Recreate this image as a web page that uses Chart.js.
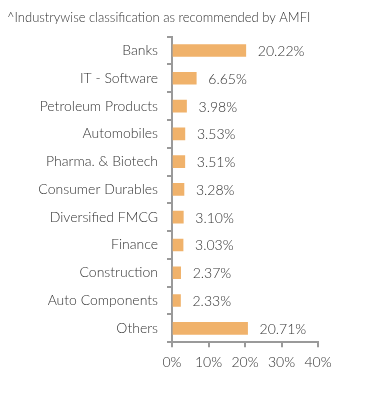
<!DOCTYPE html>
<html>
<head>
<meta charset="utf-8">
<script src="https://cdn.jsdelivr.net/npm/chart.js@4"></script>
<style>
html,body{margin:0;padding:0;background:#fff;}
#wrap{width:391px;height:395px;position:relative;}
</style>
</head>
<body>
<div id="wrap"><canvas id="c" width="391" height="395"></canvas></div>
<script>
const titleText = "^Industrywise classification as recommended by AMFI";
const categories = ["Banks","IT - Software","Petroleum Products","Automobiles","Pharma. & Biotech","Consumer Durables","Diversified FMCG","Finance","Construction","Auto Components","Others"];
const weights = [20.22, 6.65, 3.98, 3.53, 3.51, 3.28, 3.10, 3.03, 2.37, 2.33, 20.71];
const xTicks = [0, 10, 20, 30, 40];

const FONT = "Lato, 'Open Sans', sans-serif";
const TEXT = "#333333";
const AXIS = "#9a9a9a";

const valueLabels = {
  id: 'valueLabels',
  afterDatasetsDraw(chart) {
    const ctx = chart.ctx;
    const meta = chart.getDatasetMeta(0);
    ctx.save();
    ctx.font = "300 14px " + FONT;
    ctx.fillStyle = TEXT;
    ctx.textAlign = 'left';
    ctx.textBaseline = 'middle';
    meta.data.forEach((bar, i) => {
      ctx.fillText(weights[i].toFixed(2) + '%', bar.x + 12, bar.y + 1);
    });
    ctx.restore();
  }
};

new Chart(document.getElementById('c'), {
  type: 'bar',
  data: {
    labels: categories,
    datasets: [{
      data: weights,
      backgroundColor: '#F0B26B',
      borderWidth: 0,
      barThickness: 12
    }]
  },
  options: {
    indexAxis: 'y',
    responsive: false,
    animation: false,
    devicePixelRatio: 1,
    layout: { padding: { left: 7, right: 73, top: 0, bottom: 17 } },
    plugins: {
      legend: { display: false },
      tooltip: { enabled: false },
      title: {
        display: true,
        text: titleText,
        align: 'start',
        color: TEXT,
        font: { family: FONT, size: 13, weight: 300 },
        padding: { top: 10, bottom: 11 }
      }
    },
    scales: {
      x: {
        min: 0, max: 40,
        afterBuildTicks(scale) { scale.ticks = xTicks.map(v => ({ value: v })); },
        border: { display: true, color: AXIS, width: 2 },
        grid: { drawOnChartArea: false, drawTicks: true, tickLength: 5, color: AXIS, lineWidth: 2 },
        ticks: {
          color: TEXT,
          font: { family: FONT, size: 14, weight: 300 },
          padding: 7,
          maxRotation: 0,
          callback: (v) => v + '%'
        }
      },
      y: {
        afterFit(scale) { scale.width = 165; },
        border: { display: true, color: AXIS, width: 2 },
        grid: { drawOnChartArea: false, drawTicks: true, tickLength: 5, color: AXIS, lineWidth: 2, offset: true },
        ticks: {
          color: TEXT,
          font: { family: FONT, size: 14, weight: 300 },
          padding: 9
        }
      }
    }
  },
  plugins: [valueLabels]
});
</script>
</body>
</html>
